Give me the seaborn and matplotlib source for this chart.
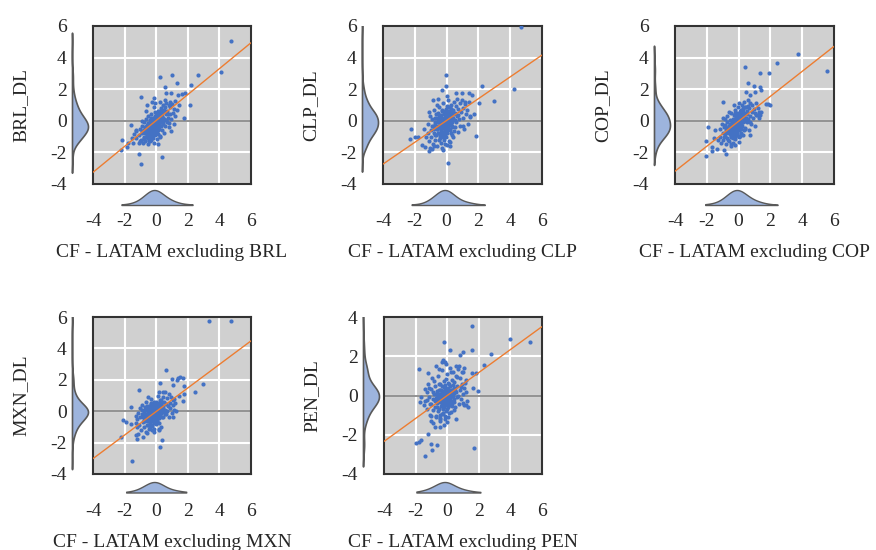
import numpy as np
import pandas as pd
import matplotlib
matplotlib.use('Agg')
import matplotlib.pyplot as plt
import seaborn as sns

# currencies shown, one panel each
currencies = ['BRL', 'CLP', 'COP', 'MXN', 'PEN']

# scatter points (x = CF - LATAM excluding ccy, y = ccy_DL)
brl_pts = [
    (4.73, 5.05), (4.13, 3.12), (0.23, 2.76), (1.01, 2.88), (2.65, 2.9), (1.33, 2.42), (0.55, 2.17), (2.21, 2.27),
    (-0.97, 1.52), (-0.13, 1.45), (0.65, 1.79), (0.93, 1.75), (1.39, 1.66), (1.64, 1.68), (1.83, 1.73), (2.15, 0.97),
    (1.77, 0.15), (1.45, 0.97), (1.33, 0.67), (-0.61, 1.03), (-0.29, 1.16), (-1.58, -0.29), (-1.31, -0.63), (-1.41, -0.82),
    (-1.52, -1.12), (-2.19, -1.24), (-2.21, -1.83), (-1.83, -1.66), (-1.77, -1.41), (-1.47, -1.41), (-1.12, -1.41), (-1.09, -2.1),
    (-0.95, -2.76), (0.38, -2.27), (0.95, -0.63), (0.21, -0.95), (-0.4, -1.28), (-0.76, -1.16), (0.84, -0.11), (0.59, 0.02),
    (0.72, 0.46), (0.86, 1.2), (1.18, 1.24),
    (-1.1, -0.9), (-1.0, -0.5), (-0.95, -1.2), (-0.9, -0.3), (-0.88, -0.8), (-0.85, -1.4), (-0.8, -0.6), (-0.78, -0.1),
    (-0.75, -1.0), (-0.72, -0.4), (-0.7, -0.75), (-0.68, -1.25), (-0.65, 0.1), (-0.62, -0.55), (-0.6, -0.9), (-0.58, -0.25),
    (-0.55, -1.1), (-0.52, -0.6), (-0.5, 0.3), (-0.48, -0.4), (-0.46, -0.8), (-0.44, -1.3), (-0.42, -0.15), (-0.4, -0.55),
    (-0.38, 0.05), (-0.36, -0.95), (-0.34, -0.35), (-0.32, -0.7), (-0.3, 0.4), (-0.28, -0.2), (-0.26, -1.05), (-0.24, -0.5),
    (-0.22, 0.15), (-0.2, -0.8), (-0.18, -0.3), (-0.16, -1.4), (-0.14, 0.0), (-0.12, -0.6), (-0.1, -0.25), (-0.08, 0.55),
    (-0.06, -0.9), (-0.04, -0.45), (-0.02, 0.25), (0.0, -0.7), (0.02, -0.1), (0.04, -1.15), (0.06, 0.35), (0.08, -0.4),
    (0.1, 0.0), (0.12, -0.85), (0.14, 0.6), (0.16, -0.2), (0.18, -0.55), (0.2, 0.2), (0.22, -1.0), (0.25, 0.45),
    (0.28, -0.3), (0.3, 0.8), (0.32, -0.05), (0.35, -0.6), (0.38, 0.3), (0.4, 1.0), (0.42, -0.2), (0.45, 0.55),
    (0.48, -0.8), (0.5, 0.1), (0.53, 0.85), (0.56, -0.35), (0.6, 0.4), (0.63, 1.1), (0.66, -0.1), (0.7, 0.6),
    (0.74, 0.2), (0.78, 1.0), (0.82, -0.4), (0.86, 0.45), (0.9, 0.85), (0.95, 0.1), (1.0, 1.05), (1.05, 0.5),
    (1.1, -0.2), (1.15, 0.75), (1.2, 0.3), (-1.3, -1.1), (-1.25, -0.6), (-0.5, -1.5), (-0.3, -1.2), (0.1, -1.45),
    (-0.65, 0.6), (-0.15, 0.85), (0.25, 1.2), (-0.05, 1.1), (0.55, 1.3), (-0.9, 0.0), (-1.05, -1.3), (0.0, 0.5),
    (-0.35, -0.1), (-0.1, -0.5), (-0.25, -0.65), (0.05, -0.3),
]
brl_core = [
    (-0.6, -0.7), (-0.55, -0.45), (-0.5, -0.95), (-0.45, -0.6), (-0.42, -0.3), (-0.4, -0.85), (-0.38, -0.5), (-0.35, -1.0),
    (-0.33, -0.2), (-0.3, -0.6), (-0.28, -0.35), (-0.26, -0.8), (-0.24, 0.0), (-0.22, -0.45), (-0.2, -0.25), (-0.18, -0.65),
    (-0.16, -0.1), (-0.14, -0.4), (-0.12, -0.85), (-0.1, 0.1), (-0.08, -0.3), (-0.06, -0.55), (-0.04, -0.15), (-0.02, 0.05),
    (0.0, -0.45), (0.02, 0.2), (0.04, -0.25), (0.06, -0.6), (0.08, 0.1), (0.1, -0.15), (0.12, 0.3), (0.14, -0.4),
    (0.16, 0.05), (0.18, 0.45), (0.2, -0.1), (0.22, 0.25), (0.25, 0.6), (0.28, 0.0), (0.3, 0.35), (0.33, 0.15),
    (-0.7, -0.4), (-0.65, -1.0), (-0.52, -0.15), (-0.47, -1.2), (-0.36, -0.7), (-0.31, 0.15), (-0.21, -1.1), (-0.11, -0.7),
    (0.03, -0.8), (0.13, -0.6), (0.35, 0.65), (0.45, 0.2), (0.5, 0.7), (0.4, -0.1), (-0.8, -1.1), (-0.9, -0.65),
    (-0.58, -0.3), (-0.27, -0.5), (-0.17, -0.2), (-0.07, 0.3),
]
clp_pts = [
    (4.67, 5.92), (-0.06, 2.9), (-0.04, 2.23), (-0.29, 1.98), (2.21, 2.21), (4.27, 2.04), (2.99, 1.24), (2.02, 1.14),
    (1.71, 0.44), (1.45, 0.27), (1.05, -0.36), (1.83, -0.99), (-2.25, -0.55), (-2.32, -1.16), (-1.96, -1.05), (-1.79, -1.05),
    (-1.52, -1.52), (-1.37, -1.68), (-1.12, -1.94), (-1.05, -1.73), (-0.8, -1.62), (-0.25, -1.85), (0.0, -1.54), (0.21, -1.33),
    (0.36, -0.88), (0.11, -2.69), (-0.86, 1.33), (-1.12, 0.53), (-0.53, 1.41), (0.57, 1.79), (0.95, 1.79), (1.43, 1.79),
    (1.62, 1.62), (1.16, 1.2), (-1.41, -0.53),
    (-1.2, -0.8), (-1.15, -0.2), (-1.1, -1.3), (-1.05, 0.3), (-1.0, -0.6), (-0.95, -1.0), (-0.9, 0.1), (-0.85, -1.5),
    (-0.82, -0.35), (-0.8, 0.7), (-0.76, -0.9), (-0.72, -0.1), (-0.7, -1.2), (-0.66, 0.45), (-0.62, -0.55), (-0.6, -1.6),
    (-0.56, 0.0), (-0.52, -0.8), (-0.5, 0.9), (-0.46, -0.3), (-0.44, -1.1), (-0.4, 0.25), (-0.38, -0.6), (-0.35, -1.4),
    (-0.32, 0.6), (-0.3, -0.15), (-0.28, -0.9), (-0.25, 0.1), (-0.22, -0.45), (-0.2, 1.1), (-0.18, -1.2), (-0.15, -0.2),
    (-0.12, 0.4), (-0.1, -0.7), (-0.08, 0.0), (-0.05, -1.0), (-0.02, 0.75), (0.0, -0.35), (0.02, 0.2), (0.05, -0.6),
    (0.08, 1.3), (0.1, -0.1), (0.12, -1.3), (0.15, 0.45), (0.18, -0.5), (0.2, 0.9), (0.22, 0.05), (0.25, -0.8),
    (0.28, 0.35), (0.3, 1.0), (0.33, -0.3), (0.36, 0.6), (0.4, -1.0), (0.43, 0.15), (0.46, 1.2), (0.5, -0.4),
    (0.53, 0.5), (0.56, 0.95), (0.6, -0.1), (0.63, 1.4), (0.66, 0.3), (0.7, -0.7), (0.74, 0.75), (0.78, 0.1),
    (0.82, 1.1), (0.86, -0.3), (0.9, 0.55), (0.95, 1.3), (1.0, 0.2), (1.05, 0.8), (1.1, -0.5), (1.15, 1.05),
    (1.2, 0.4), (1.3, 0.7), (1.35, -0.2), (1.4, 1.2), (1.5, 0.3), (-1.3, -1.0), (-0.6, 1.0), (-0.9, -1.8),
    (-0.3, -1.7), (0.2, -1.6), (-0.45, 0.35), (-0.15, 0.55), (0.0, 0.95), (-0.7, 0.2), (-0.35, -0.45), (-0.05, -0.25),
    (0.1, 0.25), (-0.25, -0.75), (0.35, -0.05), (-0.55, -0.35), (0.25, 0.6), (-0.1, -1.5), (0.45, -0.65), (0.7, 0.35),
    (-0.8, -0.5), (0.05, 1.55), (-0.4, -0.05), (0.15, -0.25),
]
clp_core = [
    (-0.6, -0.5), (-0.55, -0.1), (-0.5, -0.75), (-0.45, 0.15), (-0.42, -0.4), (-0.4, -0.95), (-0.38, 0.0), (-0.35, -0.55),
    (-0.33, 0.35), (-0.3, -0.25), (-0.28, -0.7), (-0.26, 0.2), (-0.24, -0.4), (-0.22, -0.05), (-0.2, -0.85), (-0.18, 0.4),
    (-0.16, -0.3), (-0.14, 0.1), (-0.12, -0.55), (-0.1, 0.25), (-0.08, -0.15), (-0.06, -0.6), (-0.04, 0.45), (-0.02, -0.3),
    (0.0, 0.1), (0.02, -0.5), (0.04, 0.3), (0.06, -0.1), (0.08, 0.6), (0.1, -0.4), (0.12, 0.15), (0.14, -0.2),
    (0.16, 0.5), (0.18, 0.0), (0.2, -0.6), (0.22, 0.3), (0.25, 0.75), (0.28, -0.15), (0.3, 0.45), (0.33, 0.1),
    (-0.7, -0.2), (-0.65, -0.9), (-0.52, 0.5), (-0.47, -1.2), (-0.36, -0.15), (-0.31, 0.7), (-0.21, -1.05), (-0.11, -0.9),
    (0.03, -0.8), (0.13, 0.85), (0.35, -0.4), (0.45, 0.4), (0.5, 0.05), (0.4, 0.7), (-0.8, -0.8), (-0.9, -0.3),
    (-0.58, 0.2), (-0.27, -0.45), (-0.17, 0.05), (-0.07, 0.6),
]
cop_pts = [
    (3.74, 4.21), (5.54, 3.15), (2.39, 3.64), (0.42, 3.41), (1.33, 3.05), (1.94, 3.05), (0.61, 2.42), (0.97, 2.23),
    (1.35, 2.15), (1.41, 1.94), (1.03, 1.83), (0.48, 1.83), (0.69, 1.64), (1.71, 1.09), (1.85, 1.07), (1.98, 0.97),
    (1.26, 0.57), (1.33, 0.38), (1.12, 0.36), (-1.01, 1.16), (-1.94, -0.38), (-1.49, -0.59), (-2.04, -1.28), (-2.02, -2.25),
    (-1.68, -1.66), (-1.66, -1.92), (-1.37, -1.79), (-0.93, -1.87), (-0.78, -2.11), (-0.48, -1.47), (-0.25, -1.52), (0.08, -0.99),
    (0.72, -0.93), (0.4, -0.55), (-1.52, -1.12),
    (-1.2, -1.0), (-1.15, -0.5), (-1.1, -1.4), (-1.05, -0.2), (-1.0, -0.8), (-0.95, -1.2), (-0.9, -0.4), (-0.88, 0.1),
    (-0.85, -0.95), (-0.8, -1.5), (-0.78, -0.6), (-0.75, -0.1), (-0.72, -1.1), (-0.7, 0.3), (-0.66, -0.7), (-0.62, -0.3),
    (-0.6, -1.3), (-0.56, 0.05), (-0.52, -0.85), (-0.5, 0.5), (-0.47, -0.45), (-0.44, -1.0), (-0.4, 0.0), (-0.38, -0.65),
    (-0.35, -1.4), (-0.32, 0.35), (-0.3, -0.25), (-0.28, -0.9), (-0.25, 0.7), (-0.22, -0.5), (-0.2, -1.15), (-0.18, 0.15),
    (-0.15, -0.35), (-0.12, -0.8), (-0.1, 0.45), (-0.08, -0.1), (-0.05, -0.6), (-0.02, 0.9), (0.0, -0.3), (0.02, -1.0),
    (0.05, 0.2), (0.08, -0.5), (0.1, 0.6), (0.12, -0.15), (0.15, -0.75), (0.18, 0.35), (0.2, 1.0), (0.22, -0.3),
    (0.25, 0.15), (0.28, -0.9), (0.3, 0.7), (0.33, 0.0), (0.36, 1.2), (0.4, -0.45), (0.43, 0.45), (0.46, 0.9),
    (0.5, -0.1), (0.53, 0.6), (0.56, 1.3), (0.6, 0.1), (0.63, -0.6), (0.66, 0.8), (0.7, 0.3), (0.74, 1.1),
    (0.78, -0.2), (0.82, 0.55), (0.86, 1.0), (0.9, 0.2), (0.95, 0.75), (1.0, -0.3), (1.05, 0.5), (1.1, 1.15),
    (1.15, 0.35), (1.25, 0.8), (1.3, 0.15), (1.4, 0.55), (-1.3, -1.2), (-0.6, 0.55), (-0.3, 1.0), (0.0, 1.15),
    (-0.95, 0.2), (-0.45, -1.6), (0.05, -1.35), (0.35, -0.6), (-0.7, -0.45), (-0.35, -0.05), (-0.15, -0.55), (0.1, 0.1),
    (-0.55, -0.6), (-0.25, -0.15), (0.25, 0.45), (-0.05, 0.3), (0.45, 0.2), (-0.4, -0.85), (0.6, 0.95), (-0.85, -0.25),
    (0.15, -0.35), (-0.2, 0.5), (0.7, -0.05), (-0.1, -0.9),
]
cop_core = [
    (-0.6, -0.8), (-0.55, -0.5), (-0.5, -1.05), (-0.45, -0.3), (-0.42, -0.7), (-0.4, -0.15), (-0.38, -0.9), (-0.35, -0.45),
    (-0.33, -1.1), (-0.3, -0.05), (-0.28, -0.6), (-0.26, -0.3), (-0.24, -0.85), (-0.22, 0.1), (-0.2, -0.4), (-0.18, -0.7),
    (-0.16, -0.15), (-0.14, -0.55), (-0.12, 0.2), (-0.1, -0.3), (-0.08, -0.75), (-0.06, 0.0), (-0.04, -0.45), (-0.02, 0.3),
    (0.0, -0.2), (0.02, -0.6), (0.04, 0.1), (0.06, -0.35), (0.08, 0.4), (0.1, -0.05), (0.12, -0.5), (0.14, 0.25),
    (0.16, 0.55), (0.18, -0.2), (0.2, 0.15), (0.22, 0.5), (0.25, -0.1), (0.28, 0.3), (0.3, 0.8), (0.33, 0.2),
    (-0.7, -0.6), (-0.65, -1.2), (-0.52, -0.2), (-0.47, -0.95), (-0.36, 0.1), (-0.31, -0.8), (-0.21, -1.0), (-0.11, 0.5),
    (0.03, -0.95), (0.13, 0.7), (0.35, 0.5), (0.45, 0.0), (0.5, 0.45), (0.4, 0.85), (-0.8, -0.75), (-0.9, -1.0),
    (-0.58, -0.35), (-0.27, -0.45), (-0.17, 0.3), (-0.07, -0.2),
]
mxn_pts = [
    (3.36, 5.75), (4.72, 5.75), (0.63, 2.65), (0.97, 2.04), (1.37, 2.13), (1.49, 2.21), (1.71, 2.13), (1.31, 2.0),
    (2.95, 1.73), (2.46, 1.2), (1.77, 1.62), (1.07, 1.68), (1.75, 1.07), (1.43, 0.95), (1.68, 0.67), (1.07, 0.72),
    (1.24, 0.0), (1.07, -0.4), (-1.12, 1.35), (-1.62, 0.29), (-2.11, -0.59), (-1.89, -0.69), (-1.62, -0.82), (-1.2, -1.01),
    (-1.28, -1.52), (-1.2, -1.77), (-1.14, -1.45), (-2.25, -1.64), (-0.82, -1.64), (-0.61, -1.37), (-0.42, -0.99), (0.19, -1.22),
    (0.34, -1.85), (0.23, -2.29), (-0.15, -1.12), (0.4, 1.24), (0.15, 1.2), (0.27, 1.79), (-1.55, -3.17),
    (-1.2, -0.5), (-1.15, -0.1), (-1.1, -0.9), (-1.05, 0.2), (-1.0, -0.4), (-0.95, -1.2), (-0.9, -0.2), (-0.88, 0.4),
    (-0.85, -0.7), (-0.8, 0.0), (-0.78, -1.0), (-0.75, -0.35), (-0.72, 0.25), (-0.7, -0.6), (-0.66, -0.15), (-0.62, 0.6),
    (-0.6, -0.85), (-0.56, -0.3), (-0.52, 0.1), (-0.5, -0.55), (-0.47, -1.15), (-0.44, 0.35), (-0.4, -0.2), (-0.38, -0.7),
    (-0.35, 0.05), (-0.32, 0.8), (-0.3, -0.45), (-0.28, -0.95), (-0.25, 0.2), (-0.22, -0.25), (-0.2, 0.5), (-0.18, -0.6),
    (-0.15, -0.05), (-0.12, -1.3), (-0.1, 0.3), (-0.08, -0.35), (-0.05, 0.0), (-0.02, -0.8), (0.0, 0.6), (0.02, -0.2),
    (0.05, 0.15), (0.08, -0.5), (0.1, 1.0), (0.12, -0.1), (0.15, 0.4), (0.18, -0.75), (0.2, 0.05), (0.22, 0.7),
    (0.25, -0.3), (0.28, 0.25), (0.3, -1.0), (0.33, 0.5), (0.36, -0.05), (0.4, 0.9), (0.43, 0.2), (0.46, -0.4),
    (0.5, 0.6), (0.53, 0.1), (0.56, 1.2), (0.6, -0.2), (0.63, 0.45), (0.66, 0.85), (0.7, 0.0), (0.74, 0.3),
    (0.78, 1.1), (0.82, -0.35), (0.86, 0.55), (0.9, 0.2), (0.95, 0.9), (1.0, -0.1), (1.05, 0.4), (1.1, 0.75),
    (1.15, 0.1), (1.2, 0.5), (-1.3, -0.3), (-1.25, -0.75), (-0.65, -1.35), (-0.25, -1.2), (0.15, -1.15), (-0.5, 0.9),
    (-0.7, 0.1), (-0.45, -0.1), (-0.2, -0.4), (-0.05, 0.2), (-0.35, 0.45), (-0.15, -0.15), (0.05, -0.3), (-0.55, -0.05),
    (0.25, 0.1), (-0.3, 0.1), (-0.1, -0.6), (0.35, 0.3), (-0.6, 0.3), (-0.85, -0.35), (0.45, 0.05), (0.0, -0.05),
    (-0.4, -0.45), (0.1, 0.4), (-0.25, -0.05), (0.55, -0.15),
]
mxn_core = [
    (-0.6, -0.3), (-0.55, 0.05), (-0.5, -0.6), (-0.45, 0.2), (-0.42, -0.35), (-0.4, 0.0), (-0.38, -0.55), (-0.35, -0.15),
    (-0.33, 0.3), (-0.3, -0.3), (-0.28, 0.05), (-0.26, -0.6), (-0.24, -0.15), (-0.22, 0.35), (-0.2, -0.35), (-0.18, 0.0),
    (-0.16, -0.75), (-0.14, 0.2), (-0.12, -0.25), (-0.1, 0.05), (-0.08, -0.5), (-0.06, 0.4), (-0.04, -0.1), (-0.02, 0.15),
    (0.0, -0.4), (0.02, 0.3), (0.04, -0.15), (0.06, 0.05), (0.08, -0.65), (0.1, 0.2), (0.12, -0.3), (0.14, 0.55),
    (0.16, -0.05), (0.18, 0.3), (0.2, -0.45), (0.22, 0.1), (0.25, 0.45), (0.28, -0.1), (0.3, 0.2), (0.33, 0.7),
    (-0.7, -0.2), (-0.65, 0.15), (-0.52, -0.9), (-0.47, -0.2), (-0.36, -0.85), (-0.31, 0.5), (-0.21, -0.55), (-0.11, 0.6),
    (0.03, -0.7), (0.13, 0.0), (0.35, -0.35), (0.45, 0.35), (0.5, -0.05), (0.4, 0.1), (-0.8, -0.55), (-0.9, 0.05),
    (-0.58, -0.45), (-0.27, -0.3), (-0.17, 0.1), (-0.07, -0.2),
]
pen_pts = [
    (5.24, 2.74), (4.0, 2.89), (1.55, 3.54), (1.72, -2.67), (-1.41, -3.1), (-0.23, 2.72), (0.19, 2.34), (1.03, 2.24),
    (0.8, 2.05), (1.56, 2.34), (2.78, 2.12), (2.32, 1.53), (1.83, 1.16), (1.6, 1.14), (-1.81, 1.34), (-1.22, 1.14),
    (-0.51, 1.33), (-0.27, 1.83), (-0.17, 1.7), (-0.06, 1.58), (-0.84, 0.76), (-1.41, 0.32), (-1.16, 0.4), (-1.66, -0.07),
    (-1.75, -0.35), (-1.28, -0.24), (-1.07, -0.45), (-0.91, -0.72), (-1.01, -1.06), (-1.01, -1.28), (-0.69, -1.03), (-0.44, -1.13),
    (-0.48, -1.29), (-0.17, -1.19), (-0.48, -1.61), (-0.78, -1.6), (-1.2, -1.95), (-1.05, -2.49), (-0.67, -2.5), (-2.0, -2.44),
    (-1.81, -2.35), (-1.68, -2.29), (-0.95, -2.79), (0.55, -1.21), (1.2, -0.49), (1.26, -0.29), (0.99, -0.4), (1.66, 0.39),
    (1.92, 0.25), (1.09, 0.39), (0.95, 0.57), (1.16, 0.77), (0.99, 1.18), (1.05, 1.38), (0.74, 1.48), (0.53, 1.48),
    (0.25, 1.18), (0.59, 0.94),
    (-1.4, -0.3), (-1.3, 0.2), (-1.25, -0.7), (-1.2, 0.6), (-1.15, -0.1), (-1.1, -1.0), (-1.05, 0.35), (-1.0, -0.45),
    (-0.95, 0.9), (-0.9, -0.2), (-0.88, -1.4), (-0.85, 0.1), (-0.8, -0.6), (-0.76, 0.5), (-0.72, -0.15), (-0.7, -1.1),
    (-0.66, 0.25), (-0.62, -0.4), (-0.6, 1.0), (-0.56, -0.8), (-0.52, 0.0), (-0.5, -0.25), (-0.47, 0.6), (-0.44, -1.2),
    (-0.4, -0.1), (-0.38, 0.3), (-0.35, -0.55), (-0.32, 1.3), (-0.3, 0.05), (-0.28, -0.35), (-0.25, -0.9), (-0.22, 0.45),
    (-0.2, -0.05), (-0.18, -1.5), (-0.15, 0.2), (-0.12, -0.45), (-0.1, 0.85), (-0.08, -0.2), (-0.05, 0.1), (-0.02, -0.7),
    (0.0, 1.1), (0.02, -0.3), (0.05, 0.35), (0.08, -1.1), (0.1, 0.0), (0.12, 0.6), (0.15, -0.5), (0.18, 1.4),
    (0.2, -0.15), (0.22, 0.25), (0.25, -0.85), (0.28, 0.8), (0.3, 0.1), (0.33, -0.4), (0.36, 1.2), (0.4, 0.4),
    (0.43, -0.2), (0.46, 0.7), (0.5, -0.6), (0.53, 0.2), (0.56, 1.0), (0.6, -0.1), (0.63, 0.5), (0.66, 1.35),
    (0.7, 0.0), (0.74, -0.45), (0.78, 0.3), (0.82, 0.9), (0.86, -0.2), (0.9, 0.45), (0.95, 1.2), (1.0, 0.1),
    (1.05, -0.5), (1.1, 0.65), (1.2, 0.2), (1.3, -0.6), (-1.5, -0.5), (-0.7, 1.5), (-0.3, 1.7), (0.0, -1.35),
    (-0.45, -0.05), (-0.15, -0.25), (-0.35, 0.15), (-0.05, -0.4), (0.05, 0.05), (-0.25, 0.1), (-0.55, 0.3), (0.15, -0.15),
    (-0.1, 0.25), (0.35, -0.05), (-0.65, -0.2), (-0.2, -0.6), (0.25, 0.3), (-0.4, -0.35), (0.1, -0.3), (-0.3, -0.15),
    (-0.6, -0.05), (0.0, 0.25), (-0.15, 0.55), (0.45, 0.15),
]
pen_core = [
    (-0.6, -0.35), (-0.55, 0.1), (-0.5, -0.7), (-0.45, 0.3), (-0.42, -0.2), (-0.4, -0.55), (-0.38, 0.0), (-0.35, -0.3),
    (-0.33, 0.5), (-0.3, -0.45), (-0.28, 0.1), (-0.26, -0.7), (-0.24, -0.1), (-0.22, 0.2), (-0.2, -0.3), (-0.18, 0.05),
    (-0.16, -0.5), (-0.14, 0.35), (-0.12, -0.15), (-0.1, -0.8), (-0.08, 0.15), (-0.06, -0.3), (-0.04, 0.0), (-0.02, -0.5),
    (0.0, 0.4), (0.02, -0.1), (0.04, 0.2), (0.06, -0.6), (0.08, 0.05), (0.1, -0.2), (0.12, 0.3), (0.14, -0.4),
    (0.16, 0.15), (0.18, -0.05), (0.2, 0.5), (0.22, -0.3), (0.25, 0.1), (0.28, -0.55), (0.3, 0.3), (0.33, 0.0),
    (-0.7, 0.1), (-0.65, -0.6), (-0.52, 0.6), (-0.47, -1.0), (-0.36, 0.25), (-0.31, -0.95), (-0.21, 0.75), (-0.11, -1.05),
    (0.03, 0.65), (0.13, -0.9), (0.35, 0.55), (0.45, -0.35), (0.5, 0.3), (0.4, -0.75), (-0.8, -0.3), (-0.9, 0.2),
    (-0.58, -0.1), (-0.27, -0.2), (-0.17, 0.25), (-0.07, -0.1),
]
panel_points = [brl_pts + brl_core, clp_pts + clp_core, cop_pts + cop_core,
                mxn_pts + mxn_core, pen_pts + pen_core]

# fitted line (orange): y = intercept + slope * x
fit_slope = [0.82, 0.69, 0.79, 0.75, 0.585]
fit_intercept = [0.02, 0.02, -0.03, -0.02, 0.0]

# axis ranges and ticks
x_limits = (-4, 6)
x_ticks = [-4, -2, 0, 2, 4, 6]
y_limits = [(-4, 6), (-4, 6), (-4, 6), (-4, 6), (-4, 4)]
y_ticks = [[-4, -2, 0, 2, 4, 6]] * 4 + [[-4, -2, 0, 2, 4]]
# range the bottom density is shown over
x_kde_clip = [(-2.2, 2.3), (-2.2, 2.4), (-2.1, 2.45), (-1.9, 1.9), (-1.95, 2.1)]

# layout in pixels (left, top, right, bottom) of each scatter box
W, H = 876, 550
boxes = [(93, 26, 251, 184), (383, 26, 542, 184), (675, 26, 834, 184),
         (93, 317, 251, 474), (384, 317, 542, 474)]
bottom_kde = [(21, 15)] * 3 + [(18.5, 10.5)] * 2   # (baseline offset, peak height) px

BG = '#d0d0d0'
DOT = '#4472c4'
FIT = '#ed7d31'
KDE_FACE = '#9db4dd'
KDE_EDGE = '#595959'

sns.set_style('white')
plt.rcParams['font.family'] = ['Liberation Serif', 'DejaVu Serif']
plt.rcParams['axes.unicode_minus'] = False


def fig_rect(x0, y0, x1, y1):
    return [x0 / W, 1 - y1 / H, (x1 - x0) / W, (y1 - y0) / H]


fig = plt.figure(figsize=(W / 100, H / 100), dpi=100)

for i, ccy in enumerate(currencies):
    pts = np.array(panel_points[i])
    df = pd.DataFrame({'x': pts[:, 0], 'y': pts[:, 1]})
    x0, y0, x1, y1 = boxes[i]

    ax = fig.add_axes(fig_rect(x0, y0, x1, y1))
    ax.set_facecolor(BG)
    ax.axhline(0, color='#7f7f7f', lw=1.2, zorder=2)
    sns.scatterplot(data=df, x='x', y='y', ax=ax, color=DOT, s=9,
                    linewidth=0, zorder=3)
    xs = np.array(x_limits, dtype=float)
    line_df = pd.DataFrame({'x': xs, 'y': fit_intercept[i] + fit_slope[i] * xs})
    sns.lineplot(data=line_df, x='x', y='y', ax=ax, color=FIT, lw=1.0, zorder=4)

    ax.set_xlim(*x_limits)
    ax.set_ylim(*y_limits[i])
    ax.set_xticks(x_ticks)
    ax.set_yticks(y_ticks[i])
    ax.grid(True, color='white', lw=1.5, zorder=0)
    ax.set_axisbelow(True)
    for sp in ax.spines.values():
        sp.set_visible(True)
        sp.set_color('#333333')
        sp.set_linewidth(1.5)
    ax.tick_params(axis='x', length=0, pad=21, labelsize=14)
    ax.tick_params(axis='y', length=0, pad=19, labelsize=14)
    ax.set_xlabel(f'CF - LATAM excluding {ccy}', fontsize=14)
    ax.set_ylabel(f'{ccy}_DL', fontsize=14)
    ax.xaxis.set_label_coords(0.5, -0.38)
    ax.yaxis.set_label_coords(-0.40, 0.5)

    # left marginal density of y
    base, width = x0 - 21, 16
    axl = fig.add_axes(fig_rect(base - 1, y0, base + 1.1 * width, y1))
    sns.kdeplot(data=df, y='y', ax=axl, fill=True, cut=1.5, facecolor=KDE_FACE,
                edgecolor=KDE_EDGE, linewidth=1.2, alpha=1)
    m = axl.collections[0].get_paths()[0].vertices[:, 0].max()
    axl.set_xlim(-m / width, 1.1 * m)
    axl.set_ylim(*y_limits[i])
    axl.axis('off')

    # bottom marginal density of x
    off, height = bottom_kde[i]
    base_y = y1 + off
    axb = fig.add_axes(fig_rect(x0, base_y - 1.1 * height, x1, base_y + 1))
    sns.kdeplot(data=df, x='x', ax=axb, fill=True, clip=x_kde_clip[i], bw_adjust=1.4,
                facecolor=KDE_FACE, edgecolor=KDE_EDGE, linewidth=1.0, alpha=1)
    m = axb.collections[0].get_paths()[0].vertices[:, 1].max()
    axb.set_ylim(-m / height, 1.1 * m)
    axb.set_xlim(*x_limits)
    axb.axis('off')

fig.savefig('out.png', dpi=100, facecolor='white')
